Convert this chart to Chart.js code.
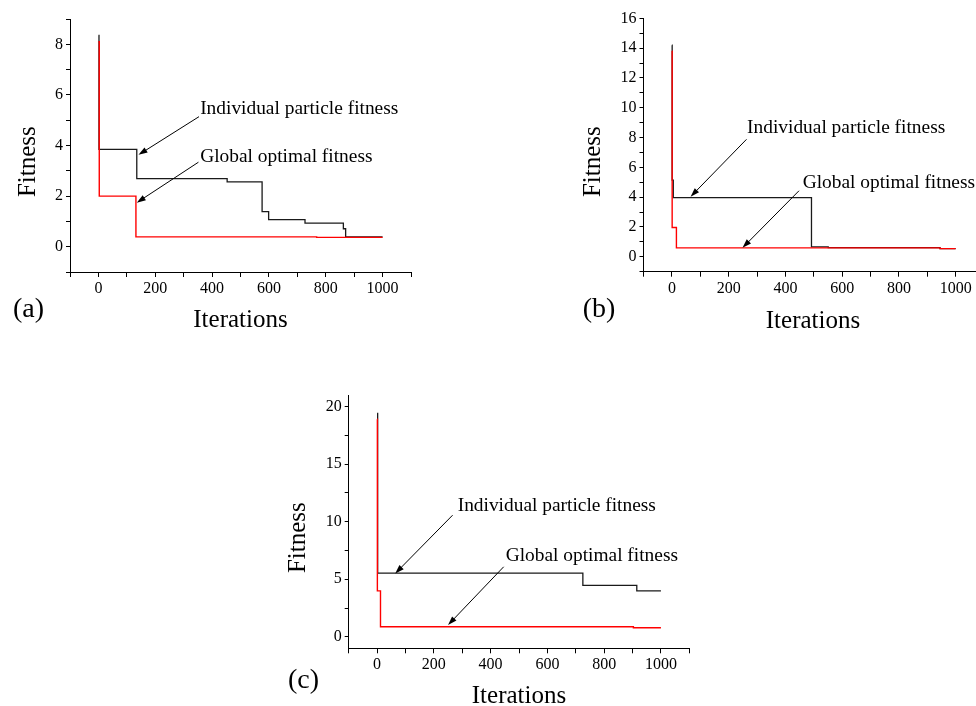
<!DOCTYPE html>
<html>
<head>
<meta charset="utf-8">
<script src="https://cdn.jsdelivr.net/npm/chart.js@4.4.1/dist/chart.umd.min.js"></script>
<style>
html, body { margin: 0; padding: 0; background: #fff; width: 976px; height: 706px; overflow: hidden; position: relative; }
canvas { position: absolute; }
</style>
</head>
<body>
<canvas id="chartA" width="440" height="345" style="left:0px;top:0px"></canvas>
<canvas id="chartB" width="460" height="345" style="left:540px;top:0px"></canvas>
<canvas id="chartC" width="450" height="336" style="left:270px;top:370px"></canvas>
<script>
// ---- data ----
// (a)
const aIndIter  = [0, 2, 135, 453, 576, 599, 727, 862, 870, 1000];
const aIndFit   = [8.35, 3.85, 2.69, 2.56, 1.39, 1.07, 0.93, 0.71, 0.39, 0.39];
const aGlobIter = [0, 3, 132, 768, 1000];
const aGlobFit  = [8.1, 2.0, 0.39, 0.37, 0.37];
// (b)
const bIndIter  = [0, 1, 5, 492, 551, 945, 1000];
const bIndFit   = [14.2, 5.15, 3.97, 0.67, 0.61, 0.55, 0.55];
const bGlobIter = [0, 1, 16, 945, 1000];
const bGlobFit  = [13.8, 1.97, 0.6, 0.55, 0.55];
// (c)
const cIndIter  = [0, 2, 725, 915, 1000];
const cIndFit   = [19.4, 5.53, 4.46, 3.99, 3.99];
const cGlobIter = [0, 1, 12, 903, 1000];
const cGlobFit  = [18.9, 3.99, 0.87, 0.78, 0.78];

// ---- ticks ----
const xTickValues = [-100, 0, 100, 200, 300, 400, 500, 600, 700, 800, 900, 1000, 1100];
const xTickLabels = ['', '0', '', '200', '', '400', '', '600', '', '800', '', '1000', ''];
const aTickValues = [-1, 0, 1, 2, 3, 4, 5, 6, 7, 8, 9];
const aTickLabels = ['', '0', '', '2', '', '4', '', '6', '', '8', ''];
const bTickValues = [-1, 0, 1, 2, 3, 4, 5, 6, 7, 8, 9, 10, 11, 12, 13, 14, 15, 16];
const bTickLabels = ['', '0', '', '2', '', '4', '', '6', '', '8', '', '10', '', '12', '', '14', '', '16'];
const cTickValues = [0, 2.5, 5, 7.5, 10, 12.5, 15, 17.5, 20];
const cTickLabels = ['0', '', '5', '', '10', '', '15', '', '20'];

const SERIF = "'Liberation Serif', 'Times New Roman', serif";
const NOTE_SIZE = 19.4;

function toPoints(xs, ys) {
    return xs.map((x, i) => ({x: x, y: ys[i]}));
}

// draws axis titles, panel letter and the arrow annotations
const overlay = {
    id: 'overlay',
    afterDraw(chart, args, opts) {
        const ctx = chart.ctx;
        const sx = chart.scales.x, sy = chart.scales.y;
        ctx.save();
        ctx.fillStyle = '#000';
        ctx.strokeStyle = '#000';
        ctx.lineWidth = 1;
        (opts.arrows || []).forEach(a => {
            const x1 = sx.getPixelForValue(a.from[0]), y1 = sy.getPixelForValue(a.from[1]);
            const x2 = sx.getPixelForValue(a.to[0]), y2 = sy.getPixelForValue(a.to[1]);
            const ang = Math.atan2(y2 - y1, x2 - x1);
            const len = 9, half = 3;
            ctx.beginPath();
            ctx.moveTo(x1, y1);
            ctx.lineTo(x2 - Math.cos(ang) * len * 0.6, y2 - Math.sin(ang) * len * 0.6);
            ctx.stroke();
            ctx.beginPath();
            ctx.moveTo(x2, y2);
            ctx.lineTo(x2 - Math.cos(ang) * len - Math.sin(ang) * half, y2 - Math.sin(ang) * len + Math.cos(ang) * half);
            ctx.lineTo(x2 - Math.cos(ang) * len + Math.sin(ang) * half, y2 - Math.sin(ang) * len - Math.cos(ang) * half);
            ctx.closePath();
            ctx.fill();
        });
        (opts.texts || []).forEach(t => {
            let px = t.x, py = t.y;
            if (t.data) {
                px = sx.getPixelForValue(t.x);
                py = sy.getPixelForValue(t.y);
            }
            ctx.save();
            ctx.translate(px, py);
            if (t.rotate) ctx.rotate(t.rotate);
            ctx.font = t.size + 'px ' + SERIF;
            ctx.textAlign = t.align || 'left';
            ctx.textBaseline = t.baseline || 'alphabetic';
            ctx.fillText(t.text, 0, 0);
            ctx.restore();
        });
        ctx.restore();
    }
};

function makeChart(id, c) {
    const canvas = document.getElementById(id);
    const area = c.area; // left, top, right, bottom inside the canvas
    return new Chart(canvas, {
        type: 'line',
        data: {
            datasets: [
                {data: toPoints(c.globIter, c.globFit), borderColor: '#ff0000', borderWidth: 1.4, stepped: 'before', pointRadius: 0, tension: 0, fill: false},
                {data: toPoints(c.indIter, c.indFit), borderColor: '#1a1a1a', borderWidth: 1.3, stepped: 'before', pointRadius: 0, tension: 0, fill: false}
            ]
        },
        options: {
            responsive: false,
            animation: false,
            devicePixelRatio: 1,
            layout: {padding: {left: 0, top: area.top, right: canvas.width - area.right, bottom: 0}},
            plugins: {
                legend: {display: false},
                tooltip: {enabled: false},
                overlay: {arrows: c.arrows, texts: c.texts}
            },
            scales: {
                x: {
                    type: 'linear',
                    min: -100,
                    max: 1100,
                    afterBuildTicks: s => { s.ticks = xTickValues.map(v => ({value: v})); },
                    afterFit: s => { s.height = canvas.height - area.bottom; },
                    ticks: {
                        autoSkip: false, maxRotation: 0, padding: 2, color: '#000',
                        font: {family: SERIF, size: 16},
                        callback: v => xTickLabels[xTickValues.indexOf(v)] ?? ''
                    },
                    grid: {display: true, drawOnChartArea: false, drawTicks: true, tickLength: 5, tickColor: '#000'},
                    border: {display: true, color: '#000', width: 1}
                },
                y: {
                    type: 'linear',
                    min: c.yMin,
                    max: c.yMax,
                    afterBuildTicks: s => { s.ticks = c.yTickValues.map(v => ({value: v})); },
                    afterFit: s => { s.width = area.left; },
                    ticks: {
                        autoSkip: false, padding: 3, color: '#000',
                        font: {family: SERIF, size: 16},
                        callback: v => c.yTickLabels[c.yTickValues.indexOf(v)] ?? ''
                    },
                    grid: {display: true, drawOnChartArea: false, drawTicks: true, tickLength: 4, tickColor: '#000'},
                    border: {display: true, color: '#000', width: 1}
                }
            }
        },
        plugins: [overlay]
    });
}

makeChart('chartA', {
    area: {left: 70, top: 19, right: 411, bottom: 272},
    yMin: -1, yMax: 9,
    yTickValues: aTickValues, yTickLabels: aTickLabels,
    indIter: aIndIter, indFit: aIndFit, globIter: aGlobIter, globFit: aGlobFit,
    arrows: [
        {from: [354, 5.14], to: [141, 3.63]},
        {from: [352, 3.34], to: [135, 1.74]}
    ],
    texts: [
        {text: 'Individual particle fitness', x: 358, y: 5.46, data: true, size: NOTE_SIZE, baseline: 'middle'},
        {text: 'Global optimal fitness', x: 358, y: 3.53, data: true, size: NOTE_SIZE, baseline: 'middle'},
        {text: 'Fitness', x: 35, y: 161.7, size: 25, align: 'center', rotate: -Math.PI / 2},
        {text: 'Iterations', x: 240.5, y: 327, size: 25, align: 'center'},
        {text: '(a)', x: 13, y: 317, size: 28}
    ]
});

makeChart('chartB', {
    area: {left: 103.5, top: 18.3, right: 444, bottom: 271.7},
    yMin: -1, yMax: 16,
    yTickValues: bTickValues, yTickLabels: bTickLabels,
    indIter: bIndIter, indFit: bIndFit, globIter: bGlobIter, globFit: bGlobFit,
    arrows: [
        {from: [263, 7.88], to: [66, 4.03]},
        {from: [448, 4.43], to: [249, 0.6]}
    ],
    texts: [
        {text: 'Individual particle fitness', x: 265, y: 8.66, data: true, size: NOTE_SIZE, baseline: 'middle'},
        {text: 'Global optimal fitness', x: 461, y: 4.97, data: true, size: NOTE_SIZE, baseline: 'middle'},
        {text: 'Fitness', x: 60, y: 161.7, size: 25, align: 'center', rotate: -Math.PI / 2},
        {text: 'Iterations', x: 273, y: 328, size: 25, align: 'center'},
        {text: '(b)', x: 42.7, y: 316.7, size: 28}
    ]
});

makeChart('chartC', {
    area: {left: 78.7, top: 25, right: 419.3, bottom: 278.3},
    yMin: -1, yMax: 21,
    yTickValues: cTickValues, yTickLabels: cTickLabels,
    indIter: cIndIter, indFit: cIndFit, globIter: cGlobIter, globFit: cGlobFit,
    arrows: [
        {from: [266, 10.56], to: [64, 5.5]},
        {from: [446, 6.08], to: [250, 1.02]}
    ],
    texts: [
        {text: 'Individual particle fitness', x: 284, y: 11.35, data: true, size: NOTE_SIZE, baseline: 'middle'},
        {text: 'Global optimal fitness', x: 453, y: 7.03, data: true, size: NOTE_SIZE, baseline: 'middle'},
        {text: 'Fitness', x: 35, y: 167.7, size: 25, align: 'center', rotate: -Math.PI / 2},
        {text: 'Iterations', x: 249, y: 333, size: 25, align: 'center'},
        {text: '(c)', x: 18, y: 318, size: 28}
    ]
});
</script>
</body>
</html>
